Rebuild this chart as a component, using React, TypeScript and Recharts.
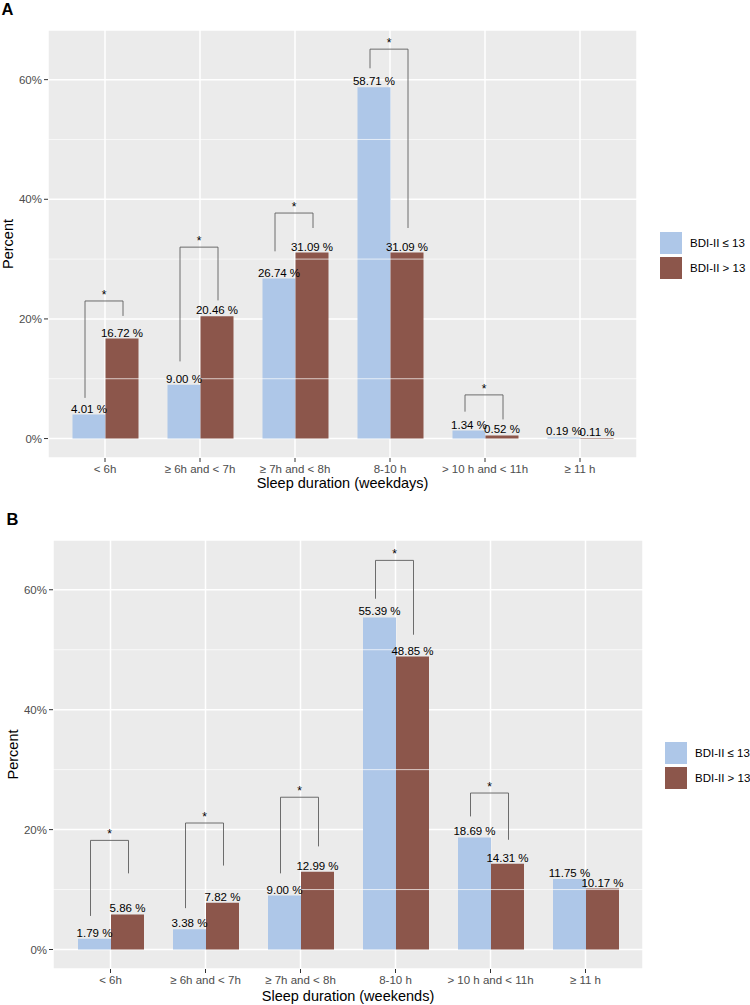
import { BarChart, Bar, XAxis, YAxis, CartesianGrid, ReferenceLine, LabelList, Legend } from "recharts";

const categories = ["< 6h", "≥ 6h and < 7h", "≥ 7h and < 8h", "8-10 h", "> 10 h and < 11h", "≥ 11 h"];
const seriesNames = ["BDI-II ≤ 13", "BDI-II > 13"];
const weekdayLow = [4.01, 9.0, 26.74, 58.71, 1.34, 0.19];
const weekdayHigh = [16.72, 20.46, 31.09, 31.09, 0.52, 0.11];
const weekendLow = [1.79, 3.38, 9.0, 55.39, 18.69, 11.75];
const weekendHigh = [5.86, 7.82, 12.99, 48.85, 14.31, 10.17];
const yTicks = [0, 20, 40, 60];
const minorTicks = [10, 30, 50];

// significance brackets: category index, left leg end, right leg end, bracket top (in %)
const weekdayBrackets = [
  [0, 6.8, 20.5, 23.0],
  [1, 12.9, 23.1, 32.0],
  [2, 31.3, 35.2, 37.7],
  [3, 61.9, 35.2, 65.1],
  [4, 4.5, 3.2, 7.3],
];
const weekendBrackets = [
  [0, 5.6, 12.7, 18.2],
  [1, 6.9, 14.0, 21.1],
  [2, 12.7, 17.2, 25.4],
  [3, 58.5, 52.5, 64.9],
  [4, 22.2, 18.3, 26.1],
];

const BLUE = "#aec7e8";
const BROWN = "#8c564b";
const FONT = "'Liberation Sans', Arial, Helvetica, sans-serif";

const fmt = (v: any) => Number(v).toFixed(2) + " %";

// value label above each bar, kept on one line
function barLabel(props: any) {
  const { x, y, width, value } = props;
  return (
    <text x={Number(x) + Number(width) / 2} y={Number(y) - 2} textAnchor="middle" fontSize={11.5} fill="#000">
      {fmt(value)}
    </text>
  );
}

function bracketShape(b: number[]) {
  return (props: any) => {
    const { x1, y1, y2 } = props;
    const [, left, right, top] = b;
    const perUnit = (y1 - y2) / (top - left);
    const yRight = y2 + (top - right) * perUnit;
    const xl = x1 - 20;
    const xr = x1 + 18;
    return (
      <g>
        <path d={`M${xl},${y1}V${y2}H${xr}V${yRight}`} fill="none" stroke="#5e5e5e" strokeWidth={0.9} />
        <text x={x1 - 1} y={y2 - 2} textAnchor="middle" fontSize={12} fill="#000">
          *
        </text>
      </g>
    );
  };
}

function LegendBox({ payload }: any) {
  const items = [...(payload || [])].sort(
    (a: any, b: any) => seriesNames.indexOf(a.value) - seriesNames.indexOf(b.value)
  );
  return (
    <div style={{ fontFamily: FONT }}>
      {items.map((p: any) => (
        <div key={p.value} style={{ display: "flex", alignItems: "center", height: 25 }}>
          <div style={{ width: 22, height: 22, background: p.color, flexShrink: 0 }} />
          <span style={{ marginLeft: 8, fontSize: 11.5, color: "#000", whiteSpace: "nowrap" }}>{p.value}</span>
        </div>
      ))}
    </div>
  );
}

interface PanelProps {
  tag: string;
  top: number;
  height: number;
  low: number[];
  high: number[];
  brackets: number[][];
  xTitle: string;
  marginTop: number;
  marginRight: number;
  yWidth: number;
  xHeight: number;
  pad: number;
  titleOffset: number;
  percentOffset: number;
  legendLeft: number;
  legendTop: number;
  tagX: number;
  tagY: number;
}

function Panel(p: PanelProps) {
  const data = categories.map((c, i) => ({ cat: c, low: p.low[i], high: p.high[i] }));
  return (
    <div style={{ position: "absolute", left: 0, top: p.top, width: 750, height: p.height }}>
      <svg width={30} height={30} style={{ position: "absolute", left: 0, top: 0 }}>
        <text x={p.tagX} y={p.tagY} fontSize={16.5} fontWeight="bold" fontFamily={FONT} fill="#000">
          {p.tag}
        </text>
      </svg>
      <BarChart
        width={750}
        height={p.height}
        data={data}
        margin={{ top: p.marginTop, right: p.marginRight, bottom: 0, left: 0 }}
        barSize={33}
        barGap={0}
      >
        <CartesianGrid fill="#ebebeb" stroke="#ffffff" strokeWidth={1.5} />
        {minorTicks.map((t) => (
          <ReferenceLine key={t} y={t} stroke="#ffffff" strokeWidth={0.7} />
        ))}
        <XAxis
          dataKey="cat"
          interval={0}
          axisLine={false}
          tickSize={4}
          tickMargin={3}
          tickLine={{ stroke: "#333333" }}
          tick={{ fontSize: 11.5, fill: "#4d4d4d" }}
          padding={{ left: p.pad, right: p.pad }}
          height={p.xHeight}
          label={{ value: p.xTitle, position: "insideBottom", offset: p.titleOffset, fontSize: 14.5, fill: "#000" }}
        />
        <YAxis
          type="number"
          domain={[-3.25, 68.3]}
          allowDataOverflow
          ticks={yTicks}
          tickFormatter={(v) => v + "%"}
          axisLine={false}
          tickSize={4}
          tickLine={{ stroke: "#333333" }}
          tick={{ fontSize: 11.5, fill: "#4d4d4d" }}
          width={p.yWidth}
          label={{
            value: "Percent",
            angle: -90,
            position: "insideLeft",
            offset: p.percentOffset,
            fontSize: 14.5,
            fill: "#000",
            style: { textAnchor: "middle" },
          }}
        />
        <Legend
          layout="horizontal"
          verticalAlign="middle"
          align="center"
          content={<LegendBox />}
          wrapperStyle={{ left: p.legendLeft, top: p.legendTop, width: 90 }}
        />
        <Bar dataKey="low" name={seriesNames[0]} fill={BLUE} isAnimationActive={false}>
          <LabelList dataKey="low" content={barLabel} />
        </Bar>
        <Bar dataKey="high" name={seriesNames[1]} fill={BROWN} isAnimationActive={false}>
          <LabelList dataKey="high" content={barLabel} />
        </Bar>
        {p.brackets.map((b) => (
          <ReferenceLine
            key={b[0]}
            segment={[
              { x: categories[b[0]], y: b[1] },
              { x: categories[b[0]], y: b[3] },
            ]}
            ifOverflow="visible"
            shape={bracketShape(b)}
          />
        ))}
      </BarChart>
    </div>
  );
}

export default function App() {
  return (
    <div style={{ position: "absolute", left: 0, top: 0, width: 750, height: 1005, background: "#fff", fontFamily: FONT }}>
      <Panel
        tag="A"
        top={0}
        height={500}
        low={weekdayLow}
        high={weekdayHigh}
        brackets={weekdayBrackets}
        xTitle="Sleep duration (weekdays)"
        marginTop={30}
        marginRight={113}
        yWidth={48}
        xHeight={42}
        pad={9.5}
        titleOffset={12}
        percentOffset={8}
        legendLeft={660}
        legendTop={230.5}
        tagX={1.5}
        tagY={15}
      />
      <Panel
        tag="B"
        top={500}
        height={505}
        low={weekendLow}
        high={weekendHigh}
        brackets={weekendBrackets}
        xTitle="Sleep duration (weekends)"
        marginTop={40}
        marginRight={107}
        yWidth={53}
        xHeight={36}
        pad={10}
        titleOffset={4}
        percentOffset={13}
        legendLeft={665}
        legendTop={240.5}
        tagX={6.5}
        tagY={25}
      />
    </div>
  );
}
